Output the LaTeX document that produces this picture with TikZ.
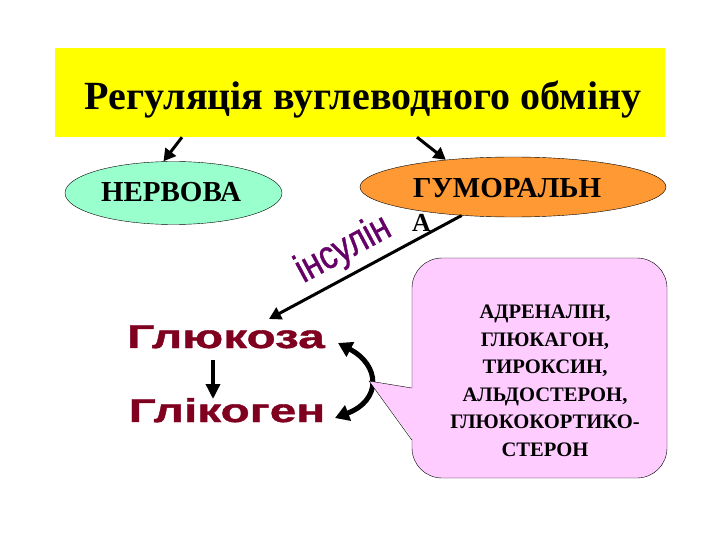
\documentclass[tikz,border=0pt]{standalone}
\usepackage{fontspec}
\setmainfont{Liberation Serif}
\newfontfamily\sugarfont[FakeStretch=1.45,FakeBold=1.2]{Liberation Sans Bold}
\newfontfamily\insfont[FakeStretch=0.82,FakeBold=1]{Liberation Sans}
\usetikzlibrary{arrows.meta,shapes.geometric,positioning}
\definecolor{titleyellow}{RGB}{255,255,0}
\definecolor{mint}{RGB}{153,255,204}
\definecolor{humorange}{RGB}{255,153,51}
\definecolor{hormpink}{RGB}{255,204,255}
\definecolor{inspurple}{RGB}{102,0,102}
\definecolor{sugarred}{RGB}{128,0,32}

\begin{document}
\begin{tikzpicture}[x=1pt,y=-1pt,
    oval/.style={ellipse,draw,inner sep=0pt},
    bigarrow/.style={line width=3pt,-{Triangle[length=12pt,width=13pt]}},
    sugar/.style={font=\sugarfont\fontsize{33}{33}\selectfont,text=sugarred,inner sep=0pt},
    serifbold/.style={font=\bfseries\fontsize{#1}{#1}\selectfont,inner sep=0pt}]
  \useasboundingbox (0,0) rectangle (720,540);
  % title
  \node[fill=titleyellow,minimum width=610,minimum height=89,inner sep=0pt] (titlebox) at (360,92.5) {};
  \node[serifbold=40,anchor=base] (title) at (363,110) {Регуляція вуглеводного обміну};
  % two ways of regulation
  \node[oval,fill=mint,minimum width=217,minimum height=63] (nerv) at (173.5,193) {};
  \node[serifbold=29,anchor=base] (nervtext) at (171,202) {НЕРВОВА};
  \node[oval,fill=humorange,minimum width=306,minimum height=60] (hum) at (513,187) {};
  \node[serifbold=29,anchor=base west] (humtext) at (413,197) {ГУМОРАЛЬН};
  \node[serifbold=26,anchor=base west] (huma) at (412,231) {А};
  \draw[bigarrow] ([xshift=-178]titlebox.south) -- ([xshift=-10]nerv.north);
  \draw[bigarrow] ([xshift=57]titlebox.south) -- (hum.158);
  % carbohydrates
  \node[sugar,anchor=base] (gluc) at (226,348) {Глюкоза};
  \node[sugar,anchor=base] (glik) at (227,422) {Глікоген};
  \coordinate (insend) at (269,319);
  \draw[bigarrow] (hum.209) -- (insend)
    node[pos=0.55,above=2pt,sloped,font=\insfont\fontsize{40}{40}\selectfont,text=inspurple] (ins) {інсулін};
  \draw[line width=3.5pt,-{Triangle[length=15pt,width=14pt]}] (213,360) -- (213,399);
  \draw[line width=5pt,{Triangle[length=14pt,width=16pt]}-{Triangle[length=14pt,width=16pt]}]
    (335,418) .. controls (382,400) and (380,365) .. (338,343);
  % hormones
  \node[draw,fill=hormpink,rounded corners=30,minimum width=255,minimum height=220] (horm) at (539.5,368) {};
  \coordinate (tip) at (369,381);
  \fill[hormpink] ([xshift=1.5,yshift=-20]horm.west) -- (tip) -- ([xshift=1.5,yshift=-72]horm.west) -- cycle;
  \draw ([yshift=-20]horm.west) -- (tip) -- ([yshift=-72]horm.west);
  \node[font=\bfseries\fontsize{20.6}{27.5}\selectfont,align=center] (hormtext) at (545,381)
    {АДРЕНАЛІН,\\ГЛЮКАГОН,\\ТИРОКСИН,\\АЛЬДОСТЕРОН,\\ГЛЮКОКОРТИКО-\\СТЕРОН};
\end{tikzpicture}
\end{document}
